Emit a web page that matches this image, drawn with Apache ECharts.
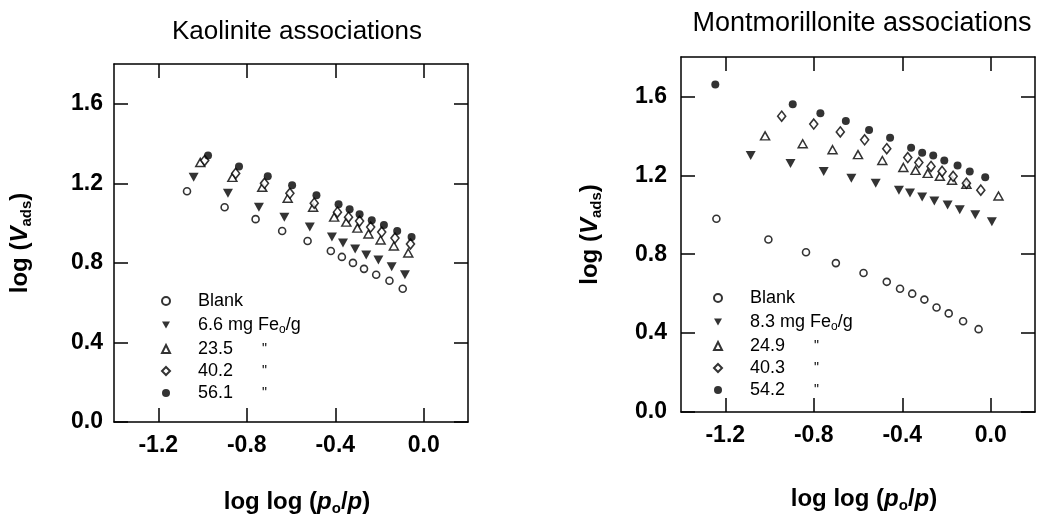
<!DOCTYPE html>
<html>
<head>
<meta charset="utf-8">
<script src="https://cdn.jsdelivr.net/npm/echarts@6/dist/echarts.min.js"></script>
<style>
  html, body { margin: 0; padding: 0; background: #fff; }
  #chart { width: 1040px; height: 522px; }
</style>
</head>
<body>
<div id="chart"></div>
<script>
// tick values and labels, shared by both panels
const xTicks = [-1.2, -0.8, -0.4, 0.0];
const yTicks = [0.0, 0.4, 0.8, 1.2, 1.6];

// Kaolinite panel, [log log (po/p), log Vads]
const kaoBlank = [[-1.07, 1.16], [-0.90, 1.08], [-0.76, 1.02], [-0.64, 0.96], [-0.525, 0.91], [-0.42, 0.86],
  [-0.37, 0.83], [-0.32, 0.80], [-0.27, 0.77], [-0.215, 0.74], [-0.155, 0.71], [-0.095, 0.67]];
const kao66 = [[-1.04, 1.23], [-0.885, 1.15], [-0.745, 1.08], [-0.63, 1.03], [-0.515, 0.98], [-0.415, 0.93],
  [-0.365, 0.90], [-0.31, 0.87], [-0.26, 0.84], [-0.205, 0.815], [-0.145, 0.78], [-0.085, 0.74]];
const kao235 = [[-1.01, 1.305], [-0.865, 1.23], [-0.73, 1.18], [-0.615, 1.125], [-0.50, 1.08], [-0.405, 1.03],
  [-0.35, 1.005], [-0.30, 0.975], [-0.25, 0.945], [-0.195, 0.915], [-0.135, 0.885], [-0.07, 0.85]];
const kao402 = [[-0.99, 1.315], [-0.85, 1.25], [-0.72, 1.20], [-0.605, 1.15], [-0.495, 1.10], [-0.39, 1.055],
  [-0.34, 1.03], [-0.29, 1.01], [-0.24, 0.98], [-0.19, 0.955], [-0.13, 0.925], [-0.06, 0.895]];
const kao561 = [[-0.975, 1.34], [-0.835, 1.285], [-0.705, 1.235], [-0.595, 1.19], [-0.485, 1.14], [-0.385, 1.095],
  [-0.335, 1.07], [-0.29, 1.045], [-0.235, 1.015], [-0.18, 0.99], [-0.12, 0.96], [-0.055, 0.93]];

// Montmorillonite panel
const monBlank = [[-1.24, 0.98], [-1.005, 0.875], [-0.835, 0.81], [-0.70, 0.755], [-0.575, 0.705], [-0.47, 0.66],
  [-0.41, 0.625], [-0.355, 0.60], [-0.30, 0.57], [-0.245, 0.53], [-0.19, 0.50], [-0.125, 0.46], [-0.055, 0.42]];
const mon83 = [[-1.085, 1.30], [-0.905, 1.26], [-0.755, 1.22], [-0.63, 1.185], [-0.52, 1.16], [-0.415, 1.125],
  [-0.365, 1.11], [-0.31, 1.09], [-0.255, 1.07], [-0.195, 1.05], [-0.14, 1.025], [-0.07, 1.00], [0.005, 0.965]];
const mon249 = [[-1.02, 1.40], [-0.85, 1.36], [-0.715, 1.33], [-0.60, 1.305], [-0.49, 1.275], [-0.395, 1.24],
  [-0.34, 1.225], [-0.285, 1.21], [-0.23, 1.195], [-0.175, 1.175], [-0.11, 1.155], [0.035, 1.095]];
const mon403 = [[-0.945, 1.50], [-0.80, 1.46], [-0.68, 1.42], [-0.57, 1.38], [-0.47, 1.335], [-0.375, 1.29],
  [-0.325, 1.265], [-0.27, 1.245], [-0.22, 1.22], [-0.17, 1.195], [-0.11, 1.16], [-0.045, 1.125]];
const mon542 = [[-1.245, 1.66], [-0.895, 1.56], [-0.77, 1.515], [-0.655, 1.475], [-0.55, 1.43], [-0.455, 1.39],
  [-0.36, 1.34], [-0.31, 1.315], [-0.26, 1.30], [-0.21, 1.275], [-0.15, 1.25], [-0.095, 1.22], [-0.025, 1.19]];

const FONT = '"Liberation Sans", Arial, Helvetica, sans-serif';

const openCircle = { symbol: 'circle', symbolSize: 7, itemStyle: { color: '#fff', borderColor: '#000', borderWidth: 1.6 } };
const downTri = { symbol: 'path://M0,0L10,0L5,9Z', symbolSize: [10, 9], itemStyle: { color: '#000' } };
const openTri = { symbol: 'triangle', symbolSize: [9, 8], itemStyle: { color: '#fff', borderColor: '#000', borderWidth: 1.5 } };
const openDiamond = { symbol: 'diamond', symbolSize: [8, 10], itemStyle: { color: '#fff', borderColor: '#000', borderWidth: 1.6 } };
const dot = { symbol: 'circle', symbolSize: 8, itemStyle: { color: '#000' } };

// legend text, {g|} is the gap between symbol and text
const legendLabels = {
  'Blank': '{g|\u00a0}{t|Blank}',
  '6.6 mg': '{g|\u00a0}{t|6.6 mg Fe}{s|o}{t|/g}',
  '23.5': '{g|\u00a0}{n|23.5}{q|"}',
  '40.2': '{g|\u00a0}{n|40.2}{q|"}',
  '56.1': '{g|\u00a0}{n|56.1}{q|"}',
  '8.3 mg': '{g|\u00a0}{t|8.3 mg Fe}{s|o}{t|/g}',
  '24.9': '{g|\u00a0}{n|24.9}{q|"}',
  '40.3': '{g|\u00a0}{n|40.3}{q|"}',
  '54.2': '{g|\u00a0}{n|54.2}{q|"}'
};

const axisNameRich = {
  a: { fontFamily: FONT, fontSize: 24, fontWeight: 'bold', color: '#000' },
  i: { fontFamily: FONT, fontSize: 24, fontWeight: 'bold', fontStyle: 'italic', color: '#000' },
  s: { fontFamily: FONT, fontSize: 15, fontWeight: 'bold', color: '#000', padding: [12, 0, 0, 0] }
};

function mkX(gi, position, labels, nameGap) {
  return {
    type: 'value', gridIndex: gi, position: position, min: -1.4, max: 0.2,
    axisLine: { show: true, onZero: false, lineStyle: { color: '#000', width: 1.5 } },
    axisTick: { show: true, inside: true, length: 14, customValues: xTicks, lineStyle: { color: '#000', width: 1.5 } },
    axisLabel: labels ? {
      show: true, customValues: xTicks, margin: 12, color: '#000', fontSize: 23, fontWeight: 'bold', fontFamily: FONT,
      formatter: v => v.toFixed(1)
    } : { show: false },
    splitLine: { show: false },
    name: labels ? '{a|log log (}{i|p}{s|o}{a|/}{i|p}{a|)}' : '',
    nameLocation: 'middle', nameGap: nameGap,
    nameTextStyle: { rich: axisNameRich, padding: [0, 0, 0, 12] }
  };
}

function mkY(gi, position, labels, margin, nameGap) {
  return {
    type: 'value', gridIndex: gi, position: position, min: 0, max: 1.8,
    axisLine: { show: true, onZero: false, lineStyle: { color: '#000', width: 1.5 } },
    axisTick: { show: true, inside: true, length: 14, customValues: yTicks, lineStyle: { color: '#000', width: 1.5 } },
    axisLabel: labels ? {
      show: true, customValues: yTicks, margin: margin, color: '#000', fontSize: 23, fontWeight: 'bold', fontFamily: FONT,
      formatter: v => v.toFixed(1)
    } : { show: false },
    splitLine: { show: false },
    name: labels ? '{a|log (}{i|V}{s|ads}{a|)}' : '',
    nameLocation: 'middle', nameGap: nameGap,
    nameTextStyle: { rich: axisNameRich }
  };
}

function mkLegend(names, left, top) {
  return {
    data: names, orient: 'vertical', left: left, top: top,
    itemWidth: 8, itemHeight: 8, itemGap: 4, selectedMode: false, padding: 0,
    formatter: name => legendLabels[name],
    textStyle: {
      color: '#000', fontFamily: FONT, fontSize: 18,
      rich: {
        g: { fontFamily: FONT, fontSize: 18, lineHeight: 22, width: 23 },
        t: { fontFamily: FONT, fontSize: 18, lineHeight: 22, color: '#000' },
        n: { fontFamily: FONT, fontSize: 18, lineHeight: 22, width: 64, color: '#000' },
        q: { fontFamily: FONT, fontSize: 14, lineHeight: 22, color: '#000' },
        s: { fontFamily: FONT, fontSize: 12, lineHeight: 8, padding: [10, 0, 0, 0], color: '#000' }
      }
    }
  };
}

function sc(name, data, style, xi, yi) {
  return Object.assign({ type: 'scatter', name: name, data: data, xAxisIndex: xi, yAxisIndex: yi,
    silent: true, animation: false }, JSON.parse(JSON.stringify(style)));
}

const chart = echarts.init(document.getElementById('chart'));
const option = {
  backgroundColor: '#fff',
  animation: false,
  textStyle: { fontFamily: FONT },
  title: [
    { text: 'Kaolinite associations', left: 292, top: 14, textAlign: 'center',
      textStyle: { fontFamily: FONT, fontSize: 26, fontWeight: 'normal', color: '#000' } },
    { text: 'Montmorillonite associations', left: 857, top: 5, textAlign: 'center',
      textStyle: { fontFamily: FONT, fontSize: 27, fontWeight: 'normal', color: '#000' } }
  ],
  grid: [
    { left: 114, top: 64, width: 354, height: 358 },
    { left: 681, top: 57, width: 354, height: 355 }
  ],
  xAxis: [mkX(0, 'bottom', true, 67), mkX(0, 'top', false, 0), mkX(1, 'bottom', true, 74), mkX(1, 'top', false, 0)],
  yAxis: [mkY(0, 'left', true, 11, 80), mkY(0, 'right', false, 0, 0), mkY(1, 'left', true, 14, 77), mkY(1, 'right', false, 0, 0)],
  legend: [
    mkLegend(['Blank', '6.6 mg', '23.5', '40.2', '56.1'], 161, 292),
    mkLegend(['Blank', '8.3 mg', '24.9', '40.3', '54.2'], 713, 289)
  ],
  series: [
    sc('Blank', kaoBlank, openCircle, 0, 0),
    sc('6.6 mg', kao66, downTri, 0, 0),
    sc('23.5', kao235, openTri, 0, 0),
    sc('40.2', kao402, openDiamond, 0, 0),
    sc('56.1', kao561, dot, 0, 0),
    sc('Blank', monBlank, openCircle, 2, 2),
    sc('8.3 mg', mon83, downTri, 2, 2),
    sc('24.9', mon249, openTri, 2, 2),
    sc('40.3', mon403, openDiamond, 2, 2),
    sc('54.2', mon542, dot, 2, 2)
  ]
};
chart.setOption(option);
</script>
</body>
</html>
